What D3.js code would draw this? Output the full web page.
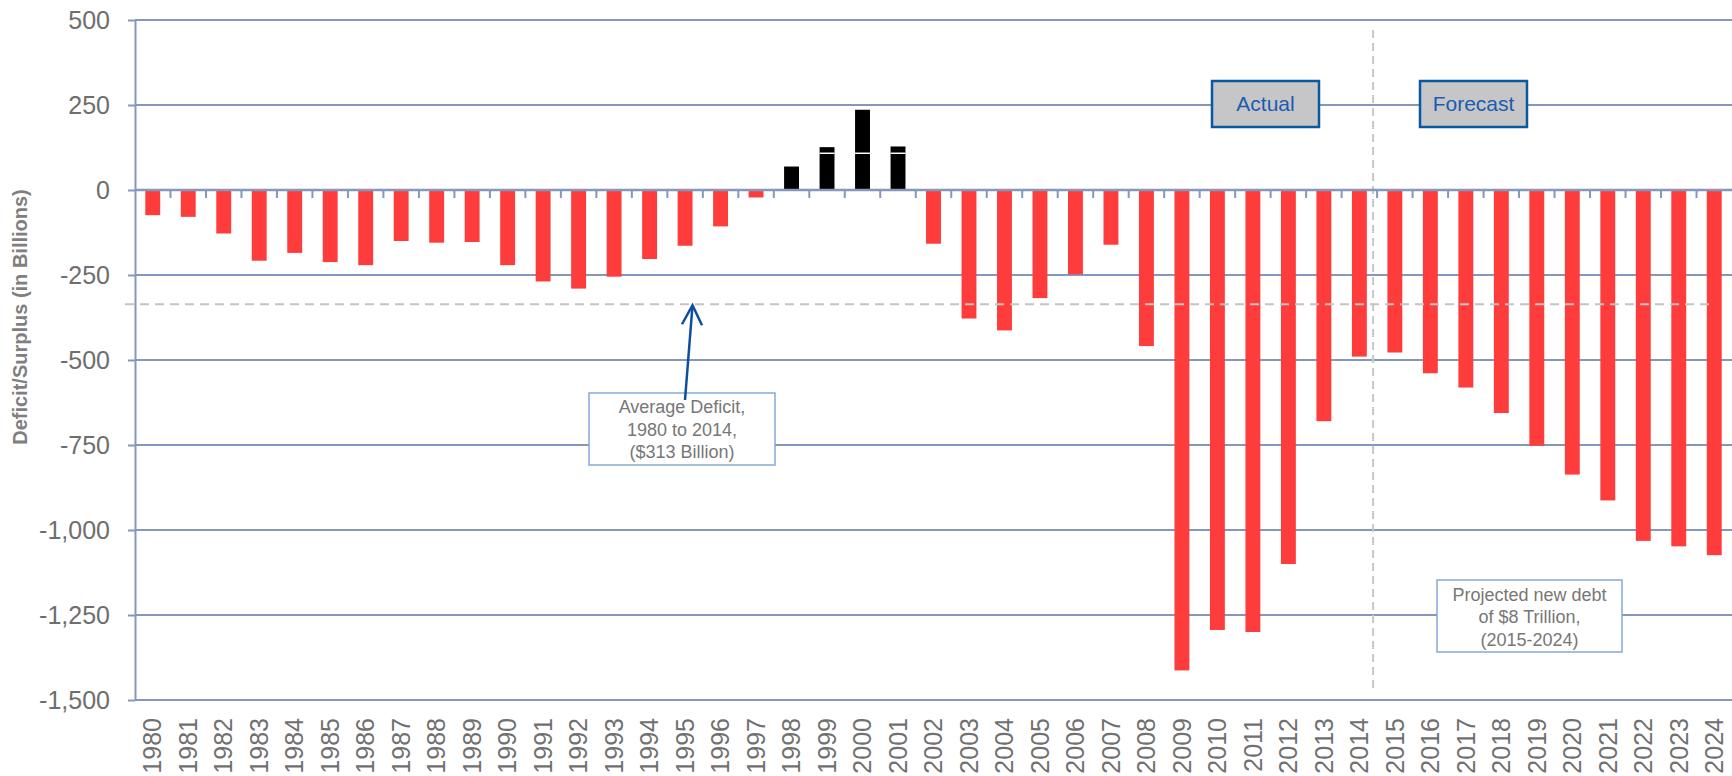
<!DOCTYPE html>
<meta charset="utf-8">
<style>
  body { margin: 0; background: #fff; }
  text { font-family: Arial, "Liberation Sans", sans-serif; }
</style>
<body>
<script src="https://cdn.jsdelivr.net/npm/d3@7"></script>
<script>
// years on the x axis
var years = ["1980","1981","1982","1983","1984","1985","1986","1987","1988","1989",
             "1990","1991","1992","1993","1994","1995","1996","1997","1998","1999",
             "2000","2001","2002","2003","2004","2005","2006","2007","2008","2009",
             "2010","2011","2012","2013","2014","2015","2016","2017","2018","2019",
             "2020","2021","2022","2023","2024"];

// deficit (-) / surplus (+) in billions
var deficits = [-74, -79, -128, -208, -185, -212, -221, -150, -155, -153,
                -221, -269, -290, -255, -203, -164, -107, -22, 69, 126,
                236, 128, -158, -378, -413, -318, -248, -161, -459, -1413,
                -1294, -1300, -1100, -680, -490, -478, -539, -581, -656, -752,
                -837, -913, -1032, -1048, -1074];

var yTicks = [500, 250, 0, -250, -500, -750, -1000, -1250, -1500];
var avgDeficit = [-336];       // dashed reference line
var surplusSplit = [108];      // white seam inside the surplus bars
var firstForecast = ["2015"];

var W = 1732, H = 776;
var margin = {top: 20, right: 0, bottom: 76, left: 135};

var svg = d3.select("body").append("svg")
    .attr("width", W)
    .attr("height", H);

var x = d3.scaleBand().domain(years)
    .range([margin.left, W])
    .paddingInner(0.58).paddingOuter(0.29);
var xb = d3.scaleBand().domain(years).range([margin.left, W]).padding(0);

var y = d3.scaleLinear().domain([-1500, 500]).range([700, margin.top]);

var gridCol = "#8597bb";
var fmt = d3.format(",");

// gridlines
svg.append("g").selectAll("line")
  .data(yTicks)
  .enter().append("line")
    .attr("x1", margin.left).attr("x2", W)
    .attr("y1", function(d) { return y(d); })
    .attr("y2", function(d) { return y(d); })
    .attr("stroke", gridCol)
    .attr("stroke-width", 2);

// y axis
var yAxis = svg.append("g")
    .attr("transform", "translate(" + margin.left + ",0)")
    .call(d3.axisLeft(y).tickValues(yTicks)
      .tickFormat(function(d) { return fmt(d).replace("\u2212", "-"); })
      .tickSizeInner(7).tickSizeOuter(0).tickPadding(18));
yAxis.select(".domain").attr("stroke", gridCol).attr("stroke-width", 2);
yAxis.selectAll(".tick line").attr("stroke", gridCol).attr("stroke-width", 2);
yAxis.selectAll(".tick text")
    .attr("fill", "#6e6e6e")
    .style("font-size", "25px")
    .attr("dy", "0.34em");

// y axis title
svg.append("text")
    .attr("transform", "translate(27,317) rotate(-90)")
    .attr("text-anchor", "middle")
    .attr("fill", "#7f7f7f")
    .style("font-size", "20px")
    .style("font-weight", "bold")
    .text("Deficit/Surplus (in Billions)");

// vertical actual/forecast divider
var divX = xb(firstForecast[0]) - 4;
svg.append("line")
    .attr("x1", divX).attr("x2", divX)
    .attr("y1", 30).attr("y2", 690)
    .attr("stroke", "#c8c8c8")
    .attr("stroke-width", 2)
    .attr("stroke-dasharray", "8,5");

// bars
var bars = years.map(function(yr, i) { return {year: yr, v: deficits[i]}; });
svg.append("g").selectAll("rect")
  .data(bars)
  .enter().append("rect")
    .attr("x", function(d) { return x(d.year); })
    .attr("width", x.bandwidth())
    .attr("y", function(d) { return y(Math.max(0, d.v)); })
    .attr("height", function(d) { return Math.abs(y(d.v) - y(0)); })
    .attr("fill", function(d) { return d.v > 0 ? "#000" : "#ff3c3c"; });

// seam in the larger surplus bars
svg.append("g").selectAll("line")
  .data(bars.filter(function(d) { return d.v > surplusSplit[0]; }))
  .enter().append("line")
    .attr("x1", function(d) { return x(d.year); })
    .attr("x2", function(d) { return x(d.year) + x.bandwidth(); })
    .attr("y1", y(surplusSplit[0])).attr("y2", y(surplusSplit[0]))
    .attr("stroke", "#fff")
    .attr("stroke-width", 1.5);

// x axis on zero line with ticks between categories
svg.append("line")
    .attr("x1", margin.left).attr("x2", W)
    .attr("y1", y(0)).attr("y2", y(0))
    .attr("stroke", gridCol).attr("stroke-width", 2.5);
svg.append("g").selectAll("line")
  .data(years.slice(1))
  .enter().append("line")
    .attr("x1", function(d) { return xb(d); })
    .attr("x2", function(d) { return xb(d); })
    .attr("y1", y(0)).attr("y2", y(0) + 8)
    .attr("stroke", gridCol).attr("stroke-width", 2);

// year labels at the bottom
svg.append("g").selectAll("text")
  .data(years)
  .enter().append("text")
    .attr("transform", function(d) {
      return "translate(" + (x(d) + x.bandwidth() / 2) + ",718) rotate(-90)";
    })
    .attr("text-anchor", "end")
    .attr("dy", "0.35em")
    .attr("fill", "#707070")
    .style("font-size", "25px")
    .text(function(d) { return d; });

// average deficit dashed line
svg.append("line")
    .attr("x1", 125).attr("x2", 1710)
    .attr("y1", y(avgDeficit[0])).attr("y2", y(avgDeficit[0]))
    .attr("stroke", "#c4c4c4")
    .attr("stroke-width", 2)
    .attr("stroke-dasharray", "9,6");

// label boxes for Actual / Forecast
function tagBox(x0, x1, label) {
  svg.append("rect")
      .attr("x", x0).attr("y", 81)
      .attr("width", x1 - x0).attr("height", 46)
      .attr("fill", "#c6c6c8")
      .attr("stroke", "#0b58a2")
      .attr("stroke-width", 2.5);
  svg.append("text")
      .attr("x", (x0 + x1) / 2).attr("y", 104)
      .attr("dy", "0.35em")
      .attr("text-anchor", "middle")
      .attr("fill", "#1a5cb0")
      .style("font-size", "21px")
      .text(label);
}
tagBox(1212, 1319, "Actual");
tagBox(1420, 1527, "Forecast");

// note boxes
function noteBox(x0, y0, x1, y1, lines, firstY) {
  svg.append("rect")
      .attr("x", x0).attr("y", y0)
      .attr("width", x1 - x0).attr("height", y1 - y0)
      .attr("fill", "#fff")
      .attr("stroke", "#86a9d4")
      .attr("stroke-width", 1.5);
  svg.append("g").selectAll("text")
    .data(lines)
    .enter().append("text")
      .attr("x", (x0 + x1) / 2)
      .attr("y", function(d, i) { return firstY + i * 22.5; })
      .attr("dy", "0.35em")
      .attr("text-anchor", "middle")
      .attr("fill", "#777")
      .style("font-size", "18px")
      .text(function(d) { return d; });
}
noteBox(589, 393, 775, 465, ["Average Deficit,", "1980 to 2014,", "($313 Billion)"], 407);
noteBox(1437, 580, 1622, 652, ["Projected new debt", "of $8 Trillion,", "(2015-2024)"], 594.5);

// arrow to the average line
var tipY = y(avgDeficit[0]) + 1;
svg.append("line")
    .attr("x1", 685).attr("y1", 400)
    .attr("x2", 692.5).attr("y2", tipY)
    .attr("stroke", "#0d4f9e").attr("stroke-width", 2.5);
svg.append("path")
    .attr("d", "M682," + (tipY + 19) + "L692.5," + tipY + "L702," + (tipY + 20))
    .attr("fill", "none")
    .attr("stroke", "#0d4f9e").attr("stroke-width", 2.5);
</script>
</body>
